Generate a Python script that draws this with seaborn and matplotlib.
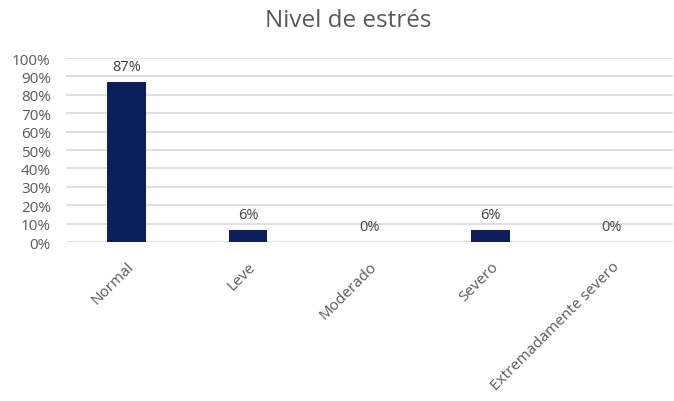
import matplotlib
matplotlib.use("Agg")
import matplotlib.pyplot as plt
import seaborn as sns
import pandas as pd

# datos del gráfico
categorias = ["Normal", "Leve", "Moderado", "Severo", "Extremadamente severo"]
valores = [0.87, 0.065, 0.0, 0.065, 0.0]
etiquetas = ["87%", "6%", "0%", "6%", "0%"]
ticks_y = [0.0, 0.1, 0.2, 0.3, 0.4, 0.5, 0.6, 0.7, 0.8, 0.9, 1.0]

df = pd.DataFrame({"nivel": categorias, "valor": valores})

sns.set_style("white")
plt.rcParams["font.family"] = ["Open Sans", "DejaVu Sans"]
gris = "#595959"

fig = plt.figure(figsize=(6.74, 4.02), dpi=100)
ax = fig.add_axes([0.098, 0.3955, 0.9, 0.4577])

sns.barplot(data=df, x="nivel", y="valor", color="#0c1f5b", width=0.32,
            saturation=1, edgecolor="none", linewidth=0, ax=ax, zorder=3)

for i, (v, t) in enumerate(zip(valores, etiquetas)):
    ax.text(i, v + 0.045, t, ha="center", va="bottom", fontsize=10.5, color="#404040")

ax.set_ylim(0, 1)
ax.set_xlim(-0.5, 4.5)
ax.set_yticks(ticks_y)
ax.set_yticklabels([f"{int(round(t * 100))}%" for t in ticks_y], fontsize=11, color=gris)
ax.yaxis.grid(True, color="#d9d9d9", linewidth=1.2, zorder=0)
ax.set_axisbelow(True)
ax.tick_params(axis="y", length=0, pad=11)
ax.tick_params(axis="x", length=0, pad=12)
plt.setp(ax.get_xticklabels(), rotation=45, ha="right", rotation_mode="anchor",
         fontsize=11, color=gris)
for s in ax.spines.values():
    s.set_visible(False)
ax.set_xlabel("")
ax.set_ylabel("")

fig.text(0.517, 0.948, "Nivel de estrés", ha="center", va="center",
         fontsize=17.5, color=gris)

fig.savefig("out.png", dpi=100)
